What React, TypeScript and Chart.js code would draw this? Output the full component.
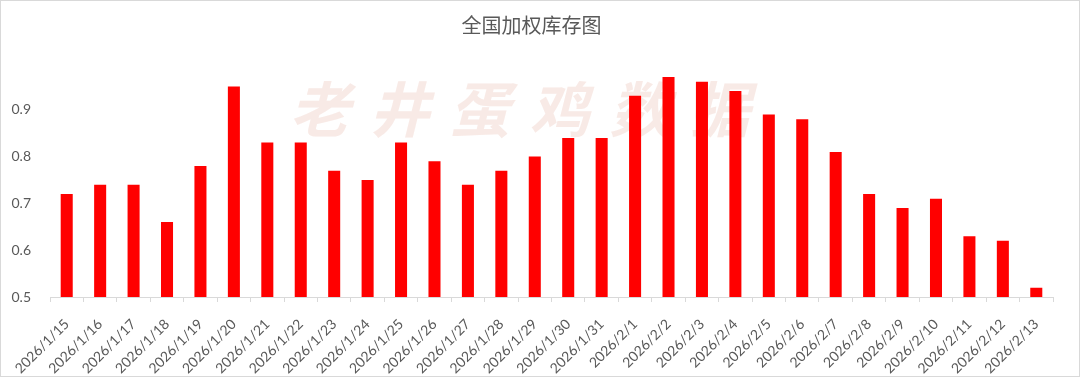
import React, { useEffect, useRef } from "react";
import { Chart, registerables } from "chart.js";

Chart.register(...registerables);

const categories = [
  "2026/1/15", "2026/1/16", "2026/1/17", "2026/1/18", "2026/1/19", "2026/1/20",
  "2026/1/21", "2026/1/22", "2026/1/23", "2026/1/24", "2026/1/25", "2026/1/26",
  "2026/1/27", "2026/1/28", "2026/1/29", "2026/1/30", "2026/1/31", "2026/2/1",
  "2026/2/2", "2026/2/3", "2026/2/4", "2026/2/5", "2026/2/6", "2026/2/7",
  "2026/2/8", "2026/2/9", "2026/2/10", "2026/2/11", "2026/2/12", "2026/2/13",
];

const inventory = [
  0.72, 0.74, 0.74, 0.66, 0.78, 0.95,
  0.83, 0.83, 0.77, 0.75, 0.83, 0.79,
  0.74, 0.77, 0.80, 0.84, 0.84, 0.93,
  0.97, 0.96, 0.94, 0.89, 0.88, 0.81,
  0.72, 0.69, 0.71, 0.63, 0.62, 0.52,
];

const yTicks = [0.5, 0.6, 0.7, 0.8, 0.9];

const titleText = "全国加权库存图";
const watermarkText = "老井蛋鸡数据";

const watermarkPlugin = {
  id: "watermark",
  beforeDatasetsDraw(chart: any) {
    const { ctx } = chart;
    const w = chart.chartArea.right - chart.chartArea.left;
    const cx = chart.chartArea.left + w * 0.468;
    const step = 80;
    const chars = Array.from(watermarkText);
    ctx.save();
    ctx.font = "italic bold 60px 'Noto Sans CJK SC'";
    ctx.fillStyle = "rgba(238, 205, 195, 0.42)";
    ctx.textAlign = "center";
    ctx.textBaseline = "middle";
    chars.forEach((c, i) => {
      const x = cx + (i - (chars.length - 1) / 2) * step;
      ctx.fillText(c, x, chart.chartArea.top + 46);
    });
    ctx.restore();
  },
};

export default function App() {
  const ref = useRef<HTMLCanvasElement | null>(null);

  useEffect(() => {
    if (!ref.current) return;
    const chart = new Chart(ref.current, {
      type: "bar",
      data: {
        labels: categories,
        datasets: [
          {
            label: "库存",
            data: inventory,
            backgroundColor: "#FF0000",
            borderWidth: 0,
            barPercentage: 0.36,
            categoryPercentage: 1,
          },
        ],
      },
      plugins: [watermarkPlugin],
      options: {
        responsive: false,
        animation: false,
        layout: { padding: { left: 9, right: 26, top: 0, bottom: 0 } },
        plugins: {
          legend: { display: false },
          tooltip: { enabled: false },
          title: {
            display: true,
            text: titleText,
            color: "#595959",
            font: { family: "'Noto Sans CJK SC'", size: 20, weight: "normal" },
            padding: { top: 12, bottom: 26 },
          },
        },
        scales: {
          x: {
            offset: true,
            afterFit(scale: any) {
              scale.paddingLeft = 0;
              scale.paddingRight = 0;
              scale.height = 79;
            },
            grid: {
              offset: true,
              drawOnChartArea: false,
              drawTicks: true,
              tickLength: 5,
              color: "#D9D9D9",
            },
            border: { display: true, color: "#D9D9D9", width: 1 },
            ticks: {
              color: "#595959",
              font: { family: "Lato, 'Open Sans', 'DejaVu Sans'", size: 14 },
              maxRotation: 45,
              minRotation: 45,
              autoSkip: false,
              padding: 14,
            },
          },
          y: {
            min: 0.5,
            max: 1.0,
            afterBuildTicks(scale: any) {
              scale.ticks = yTicks.map((v) => ({ value: v }));
            },
            afterFit(scale: any) {
              scale.width = 40;
            },
            grid: { display: false },
            border: { display: false },
            ticks: {
              color: "#595959",
              font: { family: "Lato, 'Open Sans', 'DejaVu Sans'", size: 14 },
              padding: 11,
              callback: (v: any) => Number(v).toFixed(1),
            },
          },
        },
      },
    });
    return () => chart.destroy();
  }, []);

  return (
    <div
      style={{
        position: "fixed",
        left: 0,
        top: 0,
        width: 1080,
        height: 377,
        background: "#fff",
        boxSizing: "border-box",
        border: "1px solid #D9D9D9",
      }}
    >
      <canvas ref={ref} width={1078} height={375} style={{ display: "block" }} />
    </div>
  );
}
